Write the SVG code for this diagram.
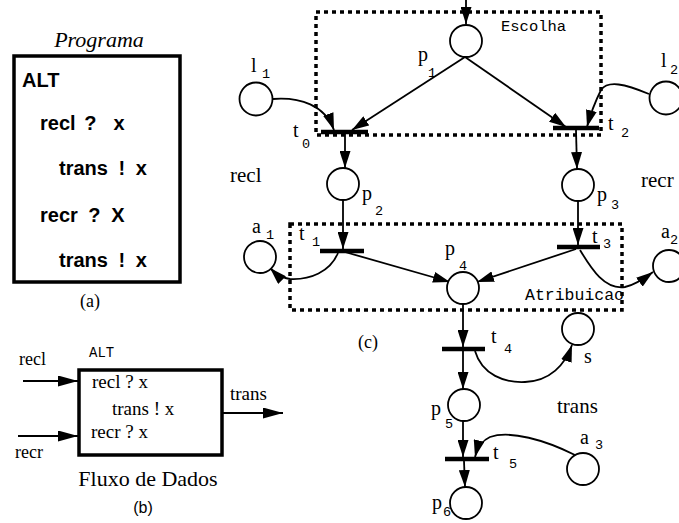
<svg xmlns="http://www.w3.org/2000/svg" width="679" height="523" viewBox="0 0 679 523">
<style>
.bg{fill:#fff}
.ser{font-family:"Liberation Serif","Times New Roman",serif;fill:#000}
.bold{font-family:"Liberation Sans",Arial,sans-serif;font-weight:bold;font-size:20px;fill:#000}
.mono{font-family:"Liberation Mono","Courier New",monospace;fill:#000}
.sub{font-family:"Liberation Mono","Courier New",monospace;font-size:13.5px;fill:#000}
.lbl{font-family:"Liberation Serif","Times New Roman",serif;font-size:20px;fill:#000}
.big{font-family:"Liberation Serif","Times New Roman",serif;font-size:21px;fill:#000}
.place{fill:#fff;stroke:#000;stroke-width:1.8}
.bar{stroke:#000;stroke-width:4.5}
.arc{fill:none;stroke:#000;stroke-width:1.8}
.dot{fill:none;stroke:#000;stroke-width:3.5;stroke-dasharray:4 4}
.box{fill:none;stroke:#000;stroke-width:3.5}
</style>
<defs>
<marker id="ah" viewBox="0 0 17 11" refX="17" refY="5.5" markerWidth="17" markerHeight="11" orient="auto" markerUnits="userSpaceOnUse"><path d="M0,0 L17,5.5 L0,11 z" fill="#000"/></marker>
<marker id="ahb" viewBox="0 0 20 11" refX="20" refY="5.5" markerWidth="20" markerHeight="11" orient="auto" markerUnits="userSpaceOnUse"><path d="M0,0 L20,5.5 L0,11 z" fill="#000"/></marker>
</defs>
<rect class="bg" x="0" y="0" width="679" height="523"/>

<!-- Panel (a) -->
<g id="panel-a">
<text class="ser" x="99" y="47" font-size="22" font-style="italic" text-anchor="middle">Programa</text>
<rect class="box" x="14" y="56" width="166" height="226"/>
<text class="bold" x="22" y="87" font-size="21">ALT</text>
<text class="bold" x="40" y="130" xml:space="preserve" word-spacing="3">recl ?  x</text>
<text class="bold" x="59" y="175" xml:space="preserve" word-spacing="5">trans ! x</text>
<text class="bold" x="40" y="222" xml:space="preserve" word-spacing="5">recr ? X</text>
<text class="bold" x="59" y="267" xml:space="preserve" word-spacing="5">trans ! x</text>
<text class="ser" x="90" y="307" font-size="18" text-anchor="middle">(a)</text>
</g>

<!-- Panel (b) -->
<g id="panel-b">
<text class="mono" x="89" y="357" font-size="14">ALT</text>
<rect class="box" x="79" y="370" width="143" height="85"/>
<text class="ser" x="92" y="388" font-size="19">recl ? x</text>
<text class="ser" x="112" y="415" font-size="19">trans ! x</text>
<text class="ser" x="91" y="438" font-size="19">recr ? x</text>
<text class="ser" x="19" y="365" font-size="18">recl</text>
<text class="ser" x="15" y="458" font-size="18">recr</text>
<text class="ser" x="230" y="400" font-size="19">trans</text>
<text class="ser" x="148" y="486" font-size="22" text-anchor="middle">Fluxo de Dados</text>
<text x="143" y="513" font-family="Liberation Sans,Arial,sans-serif" font-size="16" text-anchor="middle">(b)</text>
</g>
<g id="panel-b-connectors">
<line class="arc" x1="23" y1="381" x2="78" y2="381" marker-end="url(#ahb)"/>
<line class="arc" x1="18" y1="436" x2="78" y2="436" marker-end="url(#ahb)"/>
<line class="arc" x1="222" y1="413" x2="283" y2="413" marker-end="url(#ahb)"/>
</g>

<!-- Panel (c) -->
<g id="regions">
<rect class="dot" x="316" y="12" width="285" height="123"/>
<text class="mono" x="501" y="31" font-size="15.5">Escolha</text>
<rect class="dot" x="290" y="224" width="332" height="86"/>
<text class="mono" x="525" y="300" font-size="16.5">Atribuicao</text>
</g>

<g id="connectors">
<line class="arc" x1="466" y1="0" x2="466" y2="24" marker-end="url(#ah)"/>
<path class="arc" d="M273,99 C300,97 325,105 334,130" marker-end="url(#ah)"/>
<line class="arc" x1="465" y1="57" x2="352" y2="130" marker-end="url(#ah)"/>
<line class="arc" x1="465" y1="57" x2="566" y2="127" marker-end="url(#ah)"/>
<path class="arc" d="M649,94 C625,84 608,80 601,90 C596,100 591,112 587,127" marker-end="url(#ah)"/>
<line class="arc" x1="345" y1="133" x2="345" y2="168" marker-end="url(#ah)"/>
<line class="arc" x1="576" y1="130" x2="577" y2="169" marker-end="url(#ah)"/>
<line class="arc" x1="343" y1="200" x2="343" y2="249" marker-end="url(#ah)"/>
<line class="arc" x1="578" y1="201" x2="578" y2="245" marker-end="url(#ah)"/>
<path class="arc" d="M338,253 C330,272 310,280 290,279 C283,278 276,274 270,268" marker-end="url(#ah)"/>
<line class="arc" x1="345" y1="252" x2="450" y2="282" marker-end="url(#ah)"/>
<line class="arc" x1="576" y1="249" x2="477" y2="282" marker-end="url(#ah)"/>
<path class="arc" d="M580,250 C592,270 605,290 625,287 C635,285 645,278 653,272" marker-end="url(#ah)"/>
<line class="arc" x1="463" y1="304" x2="463" y2="347" marker-end="url(#ah)"/>
<path class="arc" d="M475,351 C482,375 505,383 525,382 C550,381 565,365 572,345" marker-end="url(#ah)"/>
<line class="arc" x1="463" y1="351" x2="463" y2="389" marker-end="url(#ah)"/>
<line class="arc" x1="463" y1="421" x2="463" y2="457" marker-end="url(#ah)"/>
<path class="arc" d="M575,455 C545,440 510,430 490,437 C481,441 477,449 475,457" marker-end="url(#ah)"/>
<line class="arc" x1="464" y1="461" x2="465" y2="487" marker-end="url(#ah)"/>
</g>

<g id="p1"><circle class="place" cx="466" cy="41" r="16"/><text class="lbl" x="418" y="61">p</text><text class="sub" x="428" y="77">1</text></g>
<g id="l1"><circle class="place" cx="256" cy="99" r="16.5"/><text class="lbl" x="251" y="72">l</text><text class="sub" x="262" y="78">1</text></g>
<g id="l2"><circle class="place" cx="666" cy="98" r="16.5"/><text class="lbl" x="661" y="67">l</text><text class="sub" x="670" y="74">2</text></g>
<g id="t0"><line class="bar" x1="321" y1="132" x2="368" y2="132"/><text class="lbl" x="293" y="137">t</text><text class="sub" x="302" y="148">0</text></g>
<g id="t2"><line class="bar" x1="553" y1="128" x2="599" y2="128"/><text class="lbl" x="608" y="130">t</text><text class="sub" x="621" y="137">2</text></g>
<g id="p2"><circle class="place" cx="343" cy="184" r="16"/><text class="lbl" x="362" y="200">p</text><text class="sub" x="375" y="215">2</text></g>
<g id="p3"><circle class="place" cx="578" cy="185" r="16"/><text class="lbl" x="597" y="201">p</text><text class="sub" x="611" y="209">3</text></g>
<g id="recl-label"><text class="big" x="230" y="182">recl</text></g>
<g id="recr-label"><text class="big" x="641" y="187">recr</text></g>
<g id="t1"><line class="bar" x1="320" y1="251" x2="364" y2="251"/><text class="lbl" x="299" y="240">t</text><text class="sub" x="312" y="246">1</text></g>
<g id="t3"><line class="bar" x1="557" y1="247" x2="600" y2="247"/><text class="lbl" x="592" y="243">t</text><text class="sub" x="603" y="248">3</text></g>
<g id="a1"><circle class="place" cx="260" cy="257" r="16"/><text class="lbl" x="252" y="233">a</text><text class="sub" x="266" y="239">1</text></g>
<g id="a2"><circle class="place" cx="669" cy="266" r="16"/><text class="lbl" x="661" y="238">a</text><text class="sub" x="670" y="244">2</text></g>
<g id="p4"><circle class="place" cx="463" cy="288" r="16"/><text class="lbl" x="445" y="255">p</text><text class="sub" x="459" y="270">4</text></g>
<g id="caption-c"><text class="ser" x="358" y="348" font-size="18">(c)</text></g>
<g id="t4"><line class="bar" x1="442" y1="349" x2="485" y2="349"/><text class="lbl" x="491" y="343">t</text><text class="sub" x="504" y="353">4</text></g>
<g id="s"><circle class="place" cx="578" cy="329" r="16"/><text class="lbl" x="584" y="363">s</text></g>
<g id="p5"><circle class="place" cx="464" cy="405" r="16"/><text class="lbl" x="431" y="415">p</text><text class="sub" x="445" y="428">5</text></g>
<g id="trans-label"><text class="big" x="557" y="413">trans</text></g>
<g id="t5"><line class="bar" x1="445" y1="459" x2="489" y2="459"/><text class="lbl" x="493" y="459">t</text><text class="sub" x="509" y="468">5</text></g>
<g id="a3"><circle class="place" cx="583" cy="469" r="16"/><text class="lbl" x="580" y="444">a</text><text class="sub" x="595" y="449">3</text></g>
<g id="p6"><circle class="place" cx="466" cy="503" r="16"/><text class="lbl" x="432" y="509">p</text><text class="sub" x="443" y="516">6</text></g>
</svg>
